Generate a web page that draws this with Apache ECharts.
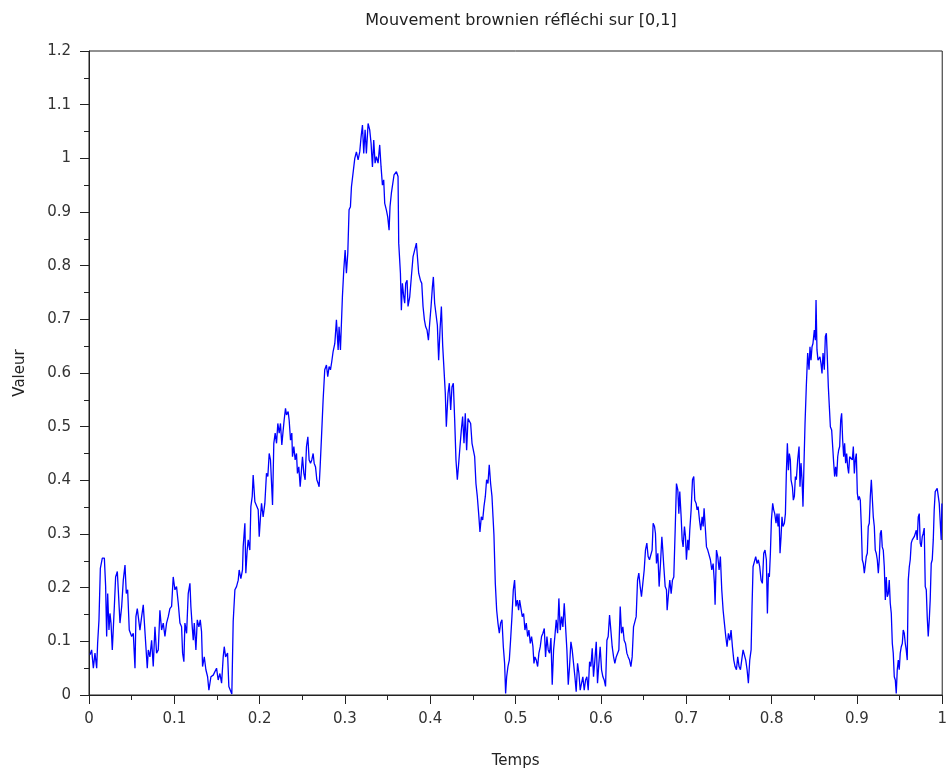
<!DOCTYPE html>
<html>
<head>
<meta charset="utf-8">
<script src="https://cdn.jsdelivr.net/npm/echarts@6/dist/echarts.min.js"></script>
<style>
  html, body { margin: 0; padding: 0; background: #ffffff; }
  #chart { width: 950px; height: 776px; }
</style>
</head>
<body>
<div id="chart"></div>
<script>
// ---- Data ----
var titleText = 'Mouvement brownien réfléchi sur [0,1]';
var xName = 'Temps';
var yName = 'Valeur';

var times = [
  0.0012,0.0031,0.0051,0.0070,0.0090,0.0101,0.0117,0.0133,0.0156,0.0180,
  0.0195,0.0207,0.0219,0.0234,0.0246,0.0258,0.0273,0.0297,0.0312,0.0332,
  0.0343,0.0363,0.0383,0.0402,0.0422,0.0437,0.0453,0.0472,0.0500,0.0519,
  0.0539,0.0550,0.0566,0.0578,0.0597,0.0617,0.0636,0.0656,0.0667,0.0683,
  0.0695,0.0714,0.0734,0.0753,0.0773,0.0792,0.0812,0.0831,0.0851,0.0870,
  0.0890,0.0909,0.0929,0.0948,0.0968,0.0987,0.1007,0.1026,0.1046,0.1066,
  0.1085,0.1097,0.1112,0.1124,0.1144,0.1163,0.1183,0.1194,0.1210,0.1222,
  0.1234,0.1253,0.1269,0.1288,0.1304,0.1319,0.1331,0.1351,0.1370,0.1390,
  0.1405,0.1429,0.1456,0.1475,0.1495,0.1514,0.1534,0.1554,0.1573,0.1585,
  0.1601,0.1624,0.1639,0.1659,0.1674,
  0.1690,0.1710,0.1729,0.1749,0.1760,0.1780,0.1799,0.1807,0.1827,0.1838,
  0.1854,0.1866,0.1885,0.1897,0.1913,0.1924,0.1944,0.1963,0.1983,0.1995,
  0.2010,0.2022,0.2041,0.2061,0.2080,0.2096,0.2112,0.2127,0.2151,0.2166,
  0.2182,0.2198,0.2213,0.2229,0.2244,0.2260,0.2276,0.2287,0.2303,0.2315,
  0.2334,0.2346,0.2362,0.2377,0.2385,0.2401,0.2416,0.2432,0.2443,0.2459,
  0.2475,0.2490,0.2502,0.2518,0.2533,0.2549,0.2565,0.2580,0.2596,0.2611,
  0.2627,0.2639,0.2655,0.2670,0.2686,0.2697,0.2709,0.2725,0.2744,0.2763,
  0.2783,0.2798,0.2814,0.2830,0.2845,0.2861,0.2881,0.2900,0.2920,0.2931,
  0.2947,
  0.2970,0.2986,0.3002,0.3017,0.3033,0.3048,0.3064,0.3076,0.3095,0.3115,
  0.3134,0.3154,0.3173,0.3189,0.3205,0.3220,0.3236,0.3251,0.3271,0.3290,
  0.3306,0.3322,0.3337,0.3353,0.3368,0.3388,0.3407,0.3423,0.3439,0.3454,
  0.3466,0.3485,0.3501,0.3517,0.3528,0.3544,0.3564,0.3575,0.3603,0.3622,
  0.3630,0.3650,0.3661,0.3673,0.3689,0.3700,0.3712,0.3728,0.3739,0.3759,
  0.3778,0.3798,0.3817,0.3837,0.3849,0.3864,0.3884,0.3900,0.3915,0.3931,
  0.3946,0.3962,0.3978,0.3993,0.4009,0.4025,
  0.4036,0.4051,0.4067,0.4083,0.4098,0.4114,0.4130,0.4145,0.4161,0.4176,
  0.4188,0.4208,0.4223,0.4239,0.4254,0.4270,0.4286,0.4301,0.4317,0.4333,
  0.4348,0.4364,0.4379,0.4395,0.4410,0.4426,0.4442,0.4457,0.4473,0.4489,
  0.4504,0.4520,0.4535,0.4551,0.4567,0.4582,0.4598,0.4614,0.4629,0.4645,
  0.4660,0.4676,0.4691,0.4707,0.4723,0.4735,0.4746,0.4762,0.4778,0.4793,
  0.4809,0.4824,0.4840,0.4856,0.4871,0.4883,0.4895,0.4910,0.4926,0.4941,
  0.4957,0.4973,0.4988,0.5004,0.5020,0.5035,0.5047,
  0.5078,0.5094,0.5109,0.5125,0.5141,0.5156,0.5172,0.5187,0.5203,0.5215,
  0.5226,0.5242,0.5258,0.5273,0.5289,0.5304,0.5320,0.5336,0.5351,0.5367,
  0.5382,0.5398,0.5414,0.5429,0.5445,0.5460,0.5476,0.5492,0.5507,0.5523,
  0.5539,0.5554,0.5570,0.5585,0.5601,0.5617,0.5632,0.5648,0.5663,0.5679,
  0.5695,0.5710,0.5726,0.5742,0.5757,0.5773,0.5788,0.5804,0.5820,0.5835,
  0.5851,0.5867,0.5882,0.5898,0.5913,0.5929,0.5945,0.5960,0.5976,0.5991,
  0.6007,0.6023,0.6038,0.6054,0.6070,0.6085,0.6101,0.6116,0.6132,0.6148,
  0.6163,0.6179,0.6194,0.6210,0.6226,0.6241,0.6257,0.6272,0.6288,0.6304,
  0.6319,0.6335,0.6351,0.6366,0.6382,0.6397,0.6413,0.6429,0.6444,0.6460,
  0.6475,0.6491,0.6507,0.6522,0.6538,0.6553,0.6569,
  0.6600,0.6612,0.6628,0.6639,0.6651,0.6667,0.6682,0.6698,0.6714,0.6725,
  0.6737,0.6753,0.6768,0.6776,0.6792,0.6807,0.6823,0.6838,0.6854,0.6870,
  0.6885,0.6901,0.6913,0.6924,0.6940,0.6952,0.6963,0.6979,0.6991,0.7002,
  0.7018,0.7030,0.7041,0.7057,0.7073,0.7088,0.7100,0.7116,0.7127,0.7139,
  0.7155,0.7170,0.7186,0.7198,0.7209,0.7225,0.7237,0.7252,0.7268,0.7283,
  0.7299,0.7315,0.7330,0.7338,0.7354,0.7369,0.7385,0.7400,0.7416,0.7432,
  0.7447,0.7463,0.7478,0.7494,0.7510,0.7525,0.7541,0.7557,0.7572,0.7588,
  0.7603,0.7619,0.7635,0.7650,0.7666,0.7681,0.7697,0.7713,0.7728,0.7744,
  0.7760,0.7771,0.7783,0.7799,0.7814,0.7830,0.7845,0.7861,0.7877,0.7892,
  0.7908,0.7923,0.7939,
  0.7951,0.7963,0.7974,0.7986,0.7998,0.8013,0.8025,0.8037,0.8052,0.8064,
  0.8076,0.8087,0.8099,0.8111,0.8122,0.8134,0.8150,0.8162,0.8173,0.8185,
  0.8197,0.8208,0.8220,0.8228,0.8244,0.8255,0.8267,0.8279,0.8290,0.8306,
  0.8322,0.8333,0.8345,0.8357,0.8368,0.8380,0.8392,0.8407,0.8423,0.8439,
  0.8450,0.8462,0.8474,0.8485,0.8501,0.8513,0.8521,0.8532,0.8544,0.8556,
  0.8567,0.8579,0.8591,0.8603,0.8618,0.8630,0.8642,0.8653,0.8665,0.8677,
  0.8689,0.8704,0.8716,0.8728,0.8739,0.8751,0.8763,0.8775,0.8786,0.8798,
  0.8810,0.8821,0.8833,0.8845,0.8856,0.8868,0.8880,0.8892,0.8903,0.8915,
  0.8946,0.8958,0.8970,0.8981,0.8993,0.9005,0.9016,0.9028,0.9040,0.9052,
  0.9063,0.9075,0.9087,0.9098,0.9110,0.9122,0.9133,0.9145,0.9157,0.9169,
  0.9180,0.9192,0.9204,0.9215,0.9227,0.9239,0.9251,0.9262,0.9274,0.9286,
  0.9297,0.9309,0.9321,0.9333,0.9344,0.9356,0.9368,0.9379,0.9391,0.9403,
  0.9415,0.9426,0.9438,0.9450,0.9461,0.9473,0.9485,0.9496,0.9508,0.9520,
  0.9532,0.9543,0.9555,0.9567,0.9578,0.9590,0.9602,0.9614,0.9625,0.9637,
  0.9649,0.9660,0.9672,0.9684,0.9696,0.9707,0.9719,0.9731,0.9742,0.9754,
  0.9766,0.9777,0.9789,0.9801,0.9813,0.9824,0.9836,0.9848,0.9859,0.9871,
  0.9883,0.9895,0.9906,0.9918,0.9930,0.9941,0.9953,0.9965,0.9977,0.9988,
  0.9996
];

var values = [
  0.075,0.084,0.050,0.078,0.050,0.096,0.140,0.236,0.255,0.255,
  0.202,0.109,0.189,0.121,0.152,0.134,0.084,0.165,0.220,0.230,
  0.196,0.134,0.165,0.214,0.242,0.189,0.196,0.121,0.109,0.115,
  0.050,0.146,0.161,0.158,0.121,0.146,0.168,0.168,0.090,0.050,
  0.084,0.071,0.102,0.053,0.127,0.078,0.084,0.158,0.121,0.134,
  0.109,0.134,0.146,0.161,0.165,0.220,0.196,0.202,0.171,0.134,
  0.127,0.078,0.062,0.134,0.115,0.189,0.208,0.165,0.127,0.102,
  0.134,0.084,0.140,0.127,0.140,0.118,0.053,0.071,0.047,0.034,
  0.009,0.034,0.037,0.040,0.050,0.028,0.040,0.022,0.071,0.090,
  0.071,0.078,0.016,0.016,0.002,
  0.137,0.196,0.202,0.214,0.233,0.217,0.233,0.276,0.320,0.227,
  0.270,0.289,0.270,0.351,0.370,0.410,0.360,0.363,0.345,0.295,
  0.332,0.357,0.332,0.357,0.413,0.407,0.450,0.438,0.354,0.469,
  0.488,0.469,0.506,0.488,0.506,0.466,0.494,0.512,0.534,0.522,
  0.528,0.512,0.475,0.488,0.444,0.463,0.438,0.450,0.413,0.425,
  0.388,0.419,0.444,0.413,0.401,0.463,0.481,0.438,0.432,0.438,
  0.450,0.432,0.425,0.401,0.394,0.388,0.425,0.481,0.550,0.606,
  0.615,0.593,0.612,0.606,0.621,0.640,0.655,0.699,0.643,0.686,
  0.643,
  0.742,0.792,0.829,0.786,0.823,0.904,0.910,0.947,0.950,1.000,
  1.012,0.997,1.012,1.040,1.062,1.009,1.053,1.009,1.065,1.053,
  1.028,0.984,1.034,0.991,1.003,0.991,1.025,0.984,0.950,0.960,
  0.916,0.904,0.891,0.866,0.910,0.935,0.938,0.969,0.975,0.966,
  0.842,0.786,0.717,0.767,0.742,0.730,0.767,0.773,0.724,0.742,
  0.779,0.817,0.817,0.842,0.817,0.786,0.773,0.767,0.724,0.699,
  0.686,0.680,0.661,0.693,0.724,0.761,
  0.779,0.730,0.730,0.689,0.624,0.680,0.724,0.652,0.652,0.562,
  0.500,0.562,0.581,0.531,0.574,0.581,0.512,0.438,0.401,0.432,
  0.463,0.494,0.519,0.469,0.525,0.456,0.515,0.512,0.506,0.469,
  0.472,0.444,0.394,0.370,0.338,0.304,0.332,0.326,0.351,0.370,
  0.401,0.394,0.429,0.394,0.370,0.332,0.298,0.208,0.158,0.134,
  0.115,0.134,0.140,0.090,0.059,0.003,0.034,0.053,0.065,0.102,
  0.146,0.196,0.214,0.165,0.177,0.158,0.177,
  0.146,0.152,0.121,0.134,0.109,0.121,0.096,0.109,0.090,0.059,
  0.071,0.065,0.053,0.078,0.090,0.109,0.115,0.124,0.071,0.109,
  0.084,0.078,0.106,0.019,0.084,0.109,0.140,0.115,0.180,0.121,
  0.146,0.127,0.171,0.171,0.084,0.019,0.053,0.099,0.084,0.059,
  0.034,0.006,0.059,0.040,0.009,0.022,0.034,0.009,0.028,0.034,
  0.009,0.062,0.053,0.087,0.034,0.065,0.099,0.022,0.059,0.090,
  0.047,0.034,0.028,0.016,0.102,0.109,0.149,0.121,0.090,0.071,
  0.059,0.071,0.071,0.084,0.165,0.115,0.127,0.102,0.096,0.078,
  0.071,0.065,0.053,0.071,0.127,0.127,0.146,0.214,0.227,0.202,
  0.183,0.208,0.233,0.270,0.283,0.258,0.252,
  0.270,0.320,0.314,0.301,0.245,0.264,0.202,0.245,0.295,0.270,
  0.239,0.202,0.196,0.158,0.189,0.214,0.189,0.214,0.220,0.307,
  0.394,0.382,0.338,0.379,0.332,0.289,0.276,0.314,0.295,0.252,
  0.289,0.270,0.307,0.345,0.401,0.407,0.363,0.357,0.345,0.351,
  0.326,0.307,0.332,0.314,0.348,0.307,0.276,0.270,0.270,0.252,
  0.233,0.245,0.208,0.168,0.270,0.258,0.233,0.258,0.196,0.158,
  0.134,0.109,0.090,0.115,0.102,0.121,0.090,0.065,0.053,0.047,
  0.071,0.053,0.047,0.065,0.084,0.084,0.065,0.047,0.022,0.065,
  0.084,0.165,0.239,0.239,0.258,0.245,0.252,0.239,0.214,0.208,
  0.264,0.270,0.252,
  0.152,0.227,0.220,0.264,0.326,0.357,0.345,0.338,0.320,0.338,
  0.314,0.338,0.264,0.295,0.332,0.314,0.320,0.338,0.413,0.469,
  0.419,0.450,0.438,0.401,0.388,0.363,0.370,0.407,0.401,0.438,
  0.463,0.388,0.432,0.401,0.351,0.432,0.506,0.575,0.637,0.606,
  0.649,0.624,0.649,0.655,0.680,0.661,0.736,0.643,0.624,0.624,
  0.630,0.618,0.599,0.637,0.606,0.668,0.674,0.630,0.575,0.537,
  0.500,0.494,0.463,0.432,0.407,0.425,0.407,0.444,0.456,0.463,
  0.512,0.525,0.475,0.444,0.469,0.432,0.450,0.425,0.413,0.444,
  0.438,0.463,0.413,0.438,0.450,0.376,0.363,0.370,0.363,0.314,
  0.252,0.245,0.227,0.227,0.258,0.264,0.314,0.320,0.370,0.401,
  0.401,0.332,0.314,0.270,0.264,0.252,0.227,0.252,0.301,0.307,
  0.276,0.270,0.239,0.177,0.220,0.183,0.189,0.214,0.171,0.152,
  0.096,0.078,0.034,0.028,0.003,0.047,0.065,0.047,0.078,0.090,
  0.096,0.121,0.115,0.096,0.084,0.065,0.214,0.239,0.252,0.283,
  0.289,0.289,0.295,0.301,0.307,0.289,0.332,0.338,0.283,0.276,
  0.295,0.301,0.311,0.202,0.196,0.146,0.109,0.140,0.177,0.245,
  0.252,0.289,0.345,0.379,0.376,0.385,0.388,0.357,0.357,0.289,
  0.357
];

var xMin = 0, xMax = 1, xStep = 0.1;
var yMin = 0, yMax = 1.2, yStep = 0.1;

// ---- Build series data from the arrays ----
var n = Math.min(times.length, values.length);
var pathData = [];
for (var i = 0; i < n; i++) pathData.push([times[i], values[i]]);

var axisColor = '#222222';
var labelColor = '#333333';
var fontFam = 'DejaVu Sans';

var chart = echarts.init(document.getElementById('chart'), null, { renderer: 'canvas' });
chart.setOption({
  animation: false,
  backgroundColor: '#ffffff',
  title: {
    text: titleText,
    left: 516,
    textAlign: 'center',
    top: 8,
    textStyle: { fontFamily: fontFam, fontSize: 16, fontWeight: 'normal', color: '#222222' }
  },
  grid: {
    left: 89, top: 51, width: 854, height: 644,
    show: true, borderColor: axisColor, borderWidth: 1, backgroundColor: 'transparent'
  },
  xAxis: {
    type: 'value', min: xMin, max: xMax, interval: xStep,
    name: xName, nameLocation: 'middle', nameGap: 59,
    nameTextStyle: { fontFamily: fontFam, fontSize: 15, color: '#222222' },
    axisLine: { show: true, lineStyle: { color: axisColor, width: 1 } },
    axisTick: { show: true, inside: false, length: 9, lineStyle: { color: axisColor } },
    minorTick: { show: true, splitNumber: 2, length: 5, lineStyle: { color: axisColor } },
    axisLabel: { margin: 17, fontFamily: fontFam, fontSize: 15, color: labelColor },
    splitLine: { show: false }
  },
  yAxis: {
    type: 'value', min: yMin, max: yMax, interval: yStep,
    name: yName, nameLocation: 'middle', nameGap: 61,
    nameTextStyle: { fontFamily: fontFam, fontSize: 15, color: '#222222' },
    axisLine: { show: true, lineStyle: { color: axisColor, width: 1 } },
    axisTick: { show: true, inside: false, length: 9, lineStyle: { color: axisColor } },
    minorTick: { show: true, splitNumber: 2, length: 5, lineStyle: { color: axisColor } },
    axisLabel: { margin: 18, fontFamily: fontFam, fontSize: 15, color: labelColor },
    splitLine: { show: false }
  },
  series: [{
    type: 'line',
    data: pathData,
    showSymbol: false,
    symbol: 'none',
    sampling: null,
    lineStyle: { color: '#0000ff', width: 1.3 },
    itemStyle: { color: '#0000ff' },
    emphasis: { disabled: true }
  }]
});
</script>
</body>
</html>
